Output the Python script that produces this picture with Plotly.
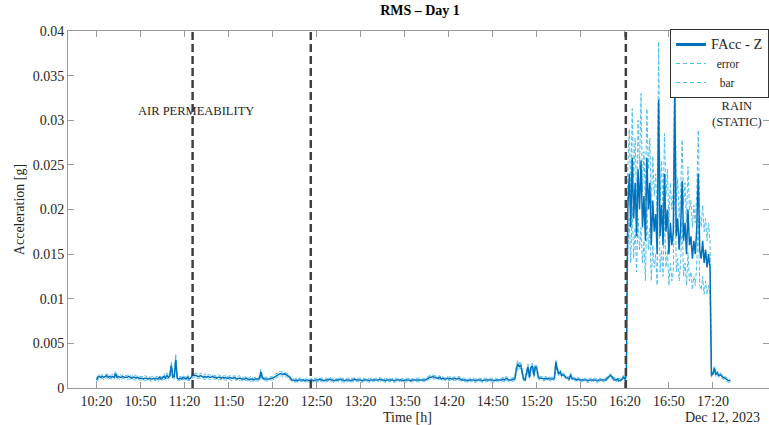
import pandas as pd
import plotly.graph_objects as go

# ---------------- data ----------------
# RMS acceleration, one value per minute from 10:20, in units of 1e-4 g
rms_e4 = [
    9, 12, 13, 12, 13, 12, 13, 14, 12, 13,
    12, 13, 12, 16, 12, 13, 12, 12, 13, 12,
    12, 12, 13, 12, 11, 12, 12, 11, 12, 11,
    11, 11, 10, 11, 11, 10, 11, 10, 10, 11,
    10, 11, 10, 12, 10, 11, 13, 11, 14, 12,
    14, 25, 12, 13, 32, 11, 10, 11, 10, 12,
    11, 10, 12, 10, 11, 13, 15, 14, 14, 13,
    13, 14, 13, 12, 13, 12, 13, 12, 12, 13,
    12, 12, 11, 12, 12, 11, 12, 11, 12, 11,
    11, 12, 11, 11, 12, 11, 10, 11, 11, 10,
    10, 10, 11, 10, 9, 10, 10, 9, 10, 10,
    10, 10, 18, 12, 10, 10, 10, 10, 10, 11,
    11, 12, 13, 14, 15, 16, 16, 15, 16, 15,
    14, 13, 11, 9, 9, 8, 9, 8, 9, 9,
    9, 9, 8, 9, 9, 8, 9, 9, 8, 9,
    9, 9, 10, 9, 9, 8, 9, 9, 9, 10,
    9, 9, 8, 9, 9, 9, 10, 9, 9, 8,
    9, 9, 9, 8, 9, 9, 10, 9, 9, 9,
    9, 8, 9, 9, 9, 9, 8, 9, 9, 9,
    9, 9, 9, 10, 9, 9, 9, 8, 9, 9,
    9, 9, 9, 8, 9, 9, 9, 9, 9, 8,
    9, 9, 9, 9, 8, 9, 9, 9, 9, 9,
    9, 9, 9, 9, 9, 10, 11, 12, 12, 13,
    12, 12, 11, 11, 12, 10, 11, 10, 10, 11,
    10, 11, 10, 10, 11, 10, 10, 11, 10, 9,
    9, 9, 9, 8, 9, 9, 9, 9, 8, 9,
    9, 9, 9, 8, 9, 9, 9, 9, 9, 9,
    9, 8, 9, 9, 9, 9, 9, 10, 9, 11,
    10, 9, 9, 9, 10, 10, 20, 27, 24, 26,
    18, 10, 9, 18, 24, 12, 23, 25, 14, 24,
    22, 12, 11, 11, 11, 10, 11, 10, 11, 10,
    10, 10, 11, 29, 20, 16, 18, 14, 15, 13,
    12, 11, 10, 15, 11, 10, 10, 9, 10, 9,
    9, 9, 9, 9, 9, 8, 9, 9, 9, 9,
    9, 8, 9, 9, 9, 9, 9, 9, 11, 13,
    14, 13, 11, 9, 9, 10, 8, 9, 10, 12,
    10, 14, 200, 240, 180, 258, 190, 230, 170, 245,
    200, 255, 180, 215, 165, 258, 200, 230, 160, 210,
    175, 195, 150, 323, 170, 205, 160, 240, 175, 200,
    150, 185, 160, 175, 326, 170, 190, 155, 180, 232,
    165, 185, 150, 200, 160, 170, 145, 165, 150, 180,
    240, 155, 145, 165, 140, 155, 135, 150, 135, 14,
    16, 22, 15, 17, 14, 15, 13, 12, 11, 10,
    9, 8, 8,
]

# error-bar half width (1e-4 g), same time grid
err_e4 = [
    2, 2, 3, 2, 2, 3, 2, 2, 3, 2,
    2, 3, 2, 3, 2, 2, 3, 2, 2, 2,
    2, 2, 3, 2, 2, 2, 3, 2, 2, 2,
    2, 2, 2, 3, 2, 2, 2, 2, 3, 2,
    2, 2, 3, 2, 2, 2, 3, 2, 3, 2,
    3, 4, 2, 3, 6, 2, 2, 2, 2, 2,
    2, 2, 3, 2, 2, 2, 3, 2, 3, 2,
    2, 3, 2, 2, 3, 2, 2, 3, 2, 2,
    2, 2, 2, 3, 2, 2, 2, 2, 3, 2,
    2, 2, 3, 2, 2, 2, 2, 3, 2, 2,
    2, 2, 2, 2, 2, 3, 2, 2, 2, 2,
    2, 2, 3, 2, 2, 2, 2, 2, 2, 2,
    2, 2, 3, 2, 2, 3, 2, 3, 2, 2,
    2, 2, 2, 1, 2, 2, 2, 1, 2, 2,
    2, 1, 2, 2, 2, 2, 1, 2, 2, 2,
    2, 2, 1, 2, 2, 2, 2, 2, 1, 2,
    2, 2, 2, 2, 1, 2, 2, 2, 2, 2,
    1, 2, 2, 2, 2, 2, 1, 2, 2, 2,
    2, 2, 2, 1, 2, 2, 2, 2, 2, 1,
    2, 2, 2, 2, 2, 1, 2, 2, 2, 2,
    2, 1, 2, 2, 2, 2, 2, 1, 2, 2,
    2, 2, 2, 2, 1, 2, 2, 2, 2, 2,
    2, 2, 1, 2, 2, 2, 2, 2, 2, 2,
    2, 2, 2, 2, 2, 2, 2, 1, 2, 2,
    2, 2, 1, 2, 2, 2, 2, 2, 2, 1,
    2, 2, 2, 2, 1, 2, 2, 2, 2, 2,
    1, 2, 2, 2, 2, 2, 2, 1, 2, 2,
    2, 2, 2, 1, 2, 2, 2, 2, 2, 2,
    2, 2, 2, 2, 2, 2, 4, 4, 3, 4,
    3, 2, 2, 3, 3, 2, 3, 3, 2, 3,
    3, 2, 2, 2, 2, 2, 2, 2, 2, 2,
    2, 2, 2, 3, 3, 2, 2, 2, 2, 2,
    2, 2, 2, 2, 2, 2, 2, 1, 2, 2,
    2, 2, 1, 2, 2, 2, 2, 2, 1, 2,
    2, 2, 2, 2, 1, 2, 2, 2, 2, 2,
    2, 2, 2, 2, 2, 2, 2, 2, 2, 2,
    2, 3, 45, 50, 40, 55, 45, 50, 40, 55,
    45, 75, 40, 50, 45, 55, 45, 50, 40, 50,
    40, 45, 35, 65, 40, 50, 35, 45, 40, 45,
    35, 45, 40, 45, 64, 40, 45, 35, 40, 46,
    40, 45, 35, 48, 40, 40, 35, 40, 35, 40,
    49, 40, 35, 40, 35, 35, 30, 35, 30, 2,
    2, 3, 2, 2, 2, 2, 2, 2, 2, 2,
    2, 2, 2,
]

start_time = "2023-12-12 10:20"
event_times = ["2023-12-12 11:25:30", "2023-12-12 12:46:00", "2023-12-12 16:20:40"]
x_range = ["2023-12-12 10:00:36", "2023-12-12 17:58:12"]
tick_times = ["2023-12-12 10:20", "2023-12-12 10:50", "2023-12-12 11:20", "2023-12-12 11:50",
              "2023-12-12 12:20", "2023-12-12 12:50", "2023-12-12 13:20", "2023-12-12 13:50",
              "2023-12-12 14:20", "2023-12-12 14:50", "2023-12-12 15:20", "2023-12-12 15:50",
              "2023-12-12 16:20", "2023-12-12 16:50", "2023-12-12 17:20"]
y_ticks = [0, 0.005, 0.01, 0.015, 0.02, 0.025, 0.03, 0.035, 0.04]
y_tick_labels = ["0", "0.005", "0.01", "0.015", "0.02", "0.025", "0.03", "0.035", "0.04"]

# ---------------- derived series ----------------
times = pd.date_range(start_time, periods=len(rms_e4), freq="1min")
rms = [v * 1e-4 for v in rms_e4]
err = [v * 1e-4 for v in err_e4]
upper = [m + e for m, e in zip(rms, err)]
lower = [m - e for m, e in zip(rms, err)]

FONT = "Liberation Serif"
BLUE = "#0072BD"
LIGHT = "#4DBEEE"
AXC = "#9a9a9a"
TXT = "#262626"

fig = go.Figure()
fig.add_trace(go.Scatter(x=times, y=upper, mode="lines", showlegend=False,
                         line=dict(color=LIGHT, width=1, dash="4px,2px")))
fig.add_trace(go.Scatter(x=times, y=lower, mode="lines", showlegend=False,
                         line=dict(color=LIGHT, width=1, dash="4px,2px")))
fig.add_trace(go.Scatter(x=times, y=rms, mode="lines", showlegend=False,
                         line=dict(color=BLUE, width=1.5)))
# legend entries
fig.add_trace(go.Scatter(x=[None], y=[None], mode="lines",
                         name='<span style="font-size:14.5px">FAcc - Z</span>',
                         line=dict(color=BLUE, width=3)))
fig.add_trace(go.Scatter(x=[None], y=[None], mode="lines", name="  error",
                         line=dict(color=LIGHT, width=1, dash="4px,3px")))
fig.add_trace(go.Scatter(x=[None], y=[None], mode="lines", name="   bar",
                         line=dict(color=LIGHT, width=1, dash="4px,3px")))

for t in event_times:
    fig.add_shape(type="line", xref="x", yref="paper", x0=t, x1=t, y0=0, y1=1,
                  line=dict(color="#404040", width=2.5, dash="8px,4px"))

fig.add_annotation(text="AIR PERMEABILITY", xref="paper", yref="paper",
                   x=(196 - 68) / 701, y=(388 - 111.5) / 357, showarrow=False,
                   xanchor="center", yanchor="middle",
                   font=dict(family=FONT, size=12.5, color=TXT))
fig.add_annotation(text="RAIN<br>(STATIC)", xref="paper", yref="paper",
                   x=(737 - 68) / 701, y=(388 - 114) / 357, showarrow=False,
                   xanchor="center", yanchor="middle",
                   font=dict(family=FONT, size=12.5, color=TXT), align="center")
fig.add_annotation(text="Time [h]", xref="paper", yref="paper",
                   x=(407 - 68) / 701, y=-(417 - 388) / 357, showarrow=False,
                   xanchor="center", yanchor="middle",
                   font=dict(family=FONT, size=14, color=TXT))
fig.add_annotation(text="Dec 12, 2023", xref="paper", yref="paper",
                   x=(762 - 68) / 701, y=-(417 - 388) / 357, showarrow=False,
                   xanchor="right", yanchor="middle",
                   font=dict(family=FONT, size=14, color=TXT))

fig.update_layout(
    width=769, height=425,
    margin=dict(l=68, r=0, t=31, b=37),
    paper_bgcolor="white", plot_bgcolor="white",
    font=dict(family=FONT, size=14, color=TXT),
    title=dict(text="<b>RMS – Day 1</b>", x=(420 - 0) / 769, xanchor="center",
               y=1 - 10 / 425, yanchor="middle",
               font=dict(family=FONT, size=14, color="black")),
    legend=dict(x=1, y=1 + 2 / 357, xanchor="right", yanchor="top",
                bgcolor="white", bordercolor="#333333", borderwidth=1,
                font=dict(family=FONT, size=11.5, color=TXT),
                itemwidth=30, tracegroupgap=0),
    xaxis=dict(range=x_range, type="date", tickvals=tick_times, tickformat="%H:%M",
               ticks="inside", ticklen=6, tickcolor=AXC, showline=True, linecolor=AXC,
               linewidth=1, mirror="ticks", showgrid=False, zeroline=False,
               tickfont=dict(family=FONT, size=14, color=TXT)),
    yaxis=dict(range=[0, 0.04], tickvals=y_ticks, ticktext=y_tick_labels,
               ticks="inside", ticklen=6, tickcolor=AXC, showline=True, linecolor=AXC,
               linewidth=1, mirror="ticks", showgrid=False, zeroline=False,
               title=dict(text="Acceleration [g]", standoff=4,
                          font=dict(family=FONT, size=14, color=TXT)),
               tickfont=dict(family=FONT, size=14, color=TXT)),
)

fig.write_html("out.html", config={"displayModeBar": False},
               post_script="document.body.style.margin='0px';document.body.style.padding='0px';")
